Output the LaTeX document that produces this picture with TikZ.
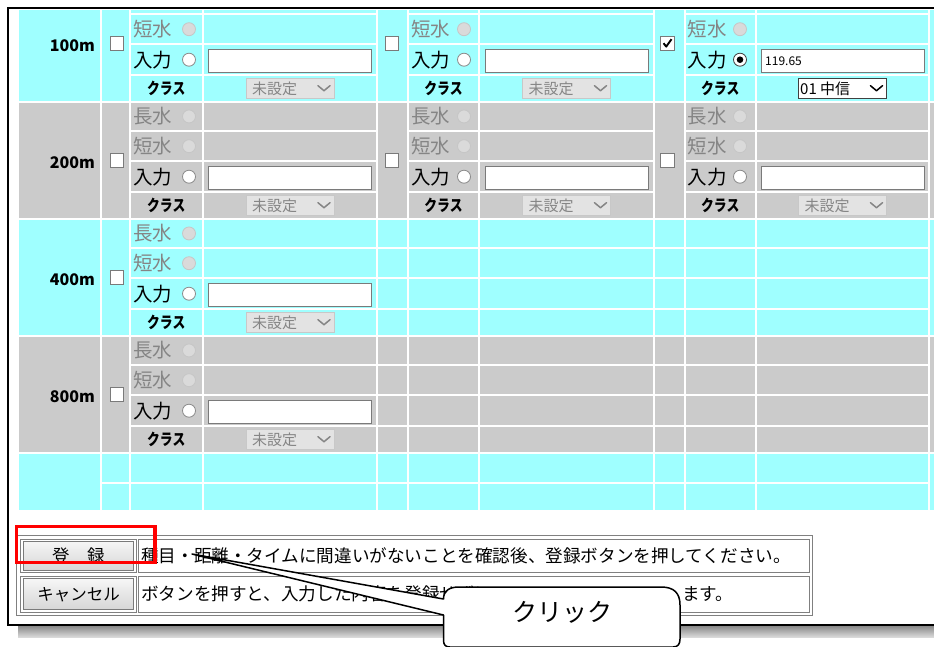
\documentclass[tikz,border=0pt]{standalone}
\usepackage{fontspec}
\usepackage{graphicx}
\setmainfont{Noto Sans CJK JP}
\usetikzlibrary{shadings}
\definecolor{cy}{HTML}{9FFFFF}
\definecolor{gr}{HTML}{CBCBCB}
\definecolor{dis}{HTML}{858585}
\definecolor{rdis}{HTML}{DADADA}
\definecolor{rdisb}{HTML}{C6C6C6}
\definecolor{ddbg}{HTML}{E3E3E3}
\definecolor{ddbd}{HTML}{C8C8C8}
\definecolor{bdr}{HTML}{7A7A7A}
\definecolor{rbd}{HTML}{8A8A8A}
\definecolor{ddon}{HTML}{404040}
\definecolor{tbl}{HTML}{808080}
\definecolor{btop}{HTML}{F6F6F6}
\definecolor{bbot}{HTML}{D6D6D6}
\definecolor{shA}{HTML}{8E8E8E}
\definecolor{shB}{HTML}{DDDDDD}
\newcommand\fsz[1]{\fontsize{#1}{#1}\selectfont}
\tikzset{
  lbl/.style={anchor=west, inner sep=0, font=\fsz{19.5}},
  dradio/.style={circle, inner sep=0, minimum size=13pt, fill=rdis, draw=rdisb, line width=0.8pt},
  onradio/.style={circle, inner sep=0, minimum size=13pt, fill=white, draw=rbd, line width=0.8pt},
  kls/.style={inner sep=0, font=\fsz{16}\bfseries},
  inbox/.style={draw=bdr, fill=white, line width=1pt, minimum width=163pt, minimum height=23.5pt, inner sep=0},
  ddoff/.style={fill=ddbg, draw=ddbd, line width=0.8pt, minimum width=88pt, minimum height=20pt, inner sep=0},
  ddenab/.style={fill=white, draw=ddon, line width=0.9pt, minimum width=88pt, minimum height=20pt, inner sep=0},
  ddtxt/.style={anchor=west, inner sep=0, font=\fsz{15}},
  chev/.style={line width=1.5pt, line cap=round, line join=round},
  cbox/.style={draw=bdr, fill=white, minimum size=13.5pt, inner sep=0, line width=0.8pt},
  distl/.style={anchor=east, inner sep=0, font=\fsz{16}\bfseries},
  btn/.style={draw=bdr, line width=0.8pt, top color=btop, bottom color=bbot},
  cell/.style={draw=tbl, line width=0.8pt},
  txt/.style={anchor=west, inner sep=0, font=\fsz{17.6}}
}
% rows 2-4 of a field set
% #1 = T (group top), #2 = label x, #3 = radio x, #4 = class x, #5 = centre of input column, #6 = id
\newcommand\jsetlow[6]{%
  \node[lbl,text=dis] (nB#6) at (#2,#1+44.5) {短水};
  \node[dradio] (rB#6) at (#3,#1+44.5) {};
  \node[lbl] (nC#6) at (#2,#1+75) {入力};
  \node[onradio] (rC#6) at (#3,#1+75) {};
  \node[kls] (nD#6) at (#4,#1+103.5) {\scalebox{0.8}[1]{クラス}};
  \node[inbox] (in#6) at (#5,#1+76.25) {};
  \node[ddoff] (dd#6) at (#5,#1+104) {};
  \node[ddtxt,text=dis] (dt#6) at (#5-38,#1+104) {未設定};
  \draw[chev,draw=dis] (#5+28,#1+101) -- (#5+34,#1+106) -- (#5+40,#1+101);
}
\newcommand\jset[6]{%
  \node[lbl,text=dis] (nA#6) at (#2,#1+14.75) {長水};
  \node[dradio] (rA#6) at (#3,#1+14.75) {};
  \jsetlow{#1}{#2}{#3}{#4}{#5}{#6}%
}
\begin{document}
\begin{tikzpicture}[x=1pt,y=-1pt]
\useasboundingbox (0,0) rectangle (934,646);
\fill[white] (0,0) rectangle (934,646);
% window shadow and frame
\shade[top color=shA, bottom color=shB] (18,626.5) rectangle (940,637.5);
\draw[line width=1.8pt] (940,8) -- (8,8) -- (8,625) -- (940,625);
% ---------------- table ----------------
\begin{scope}
\clip (0,10.5) rectangle (934,646);
\foreach \k/\cc in {0/cy,1/gr}{
  \foreach \a/\b in {18/101, 101/129.5, 377/408, 654/684.5, 929/937}
    \fill[\cc] (\a+1,-15.3+117*\k+1) rectangle (\b-1,-15.3+117*\k+116);
  \foreach \a/\b in {129.5/203, 203/377, 408/479, 479/654, 684.5/756, 756/929}
    \foreach \p/\q in {0/29.5, 29.5/59.5, 59.5/90.5, 90.5/117}
      \fill[\cc] (\a+1,-15.3+117*\k+\p+1) rectangle (\b-1,-15.3+117*\k+\q-1);
}
\foreach \k/\cc in {2/cy,3/gr}{
  \foreach \a/\b in {18/101, 101/129.5, 929/937}
    \fill[\cc] (\a+1,-15.3+117*\k+1) rectangle (\b-1,-15.3+117*\k+116);
  \foreach \a/\b in {129.5/203, 203/377, 377/408, 408/479, 479/654, 654/684.5, 684.5/756, 756/929}
    \foreach \p/\q in {0/29.5, 29.5/59.5, 59.5/90.5, 90.5/117}
      \fill[\cc] (\a+1,-15.3+117*\k+\p+1) rectangle (\b-1,-15.3+117*\k+\q-1);
}
\fill[cy] (19,453.7) rectangle (100,510);
\fill[cy] (930,453.7) rectangle (936,510);
\foreach \a/\b in {101/129.5, 129.5/203, 203/377, 377/408, 408/479, 479/654, 654/684.5, 684.5/756, 756/929}
  \foreach \p/\q in {452.7/482.5, 482.5/511}
    \fill[cy] (\a+1,\p+1) rectangle (\b-1,\q-1);
% distance labels and check boxes
\node[distl] (d100) at (95,45.2) {100m};
\node[distl] (d200) at (95,162.2) {200m};
\node[distl] (d400) at (95,279.2) {400m};
\node[distl] (d800) at (95,396.2) {800m};
\node[cbox] (cb0a) at (117,43.2) {};
\node[cbox] (cb0b) at (391.7,43.2) {};
\node[cbox] (cb0c) at (667.5,43.2) {};
\draw[line width=1.9pt, line join=round] ([shift={(-4,0)}]cb0c.center) -- ([shift={(-1.3,3.4)}]cb0c.center) -- ([shift={(4,-4)}]cb0c.center);
\node[cbox] (cb1a) at (117,160.2) {};
\node[cbox] (cb1b) at (391.7,160.2) {};
\node[cbox] (cb1c) at (667.5,160.2) {};
\node[cbox] (cb2a) at (117,277.2) {};
\node[cbox] (cb3a) at (117,394.2) {};
% field sets
\jsetlow{-15.3}{133}{189}{166.25}{290}{g0a}
\jsetlow{-15.3}{411}{464}{443.5}{566.5}{g0b}
\jset{101.7}{133}{189}{166.25}{290}{g1a}
\jset{101.7}{411}{464}{443.5}{566.5}{g1b}
\jset{101.7}{687.5}{740}{720.25}{842.5}{g1c}
\jset{218.7}{133}{189}{166.25}{290}{g2a}
\jset{335.7}{133}{189}{166.25}{290}{g3a}
% filled set (100m, third)
\node[lbl,text=dis] (nBs) at (687.5,29.2) {短水};
\node[dradio] (rBs) at (740,29.2) {};
\node[lbl] (nCs) at (687.5,59.7) {入力};
\node[onradio, draw=ddon] (rCs) at (740,59.7) {};
\fill (rCs.center) circle[radius=3.3pt];
\node[kls] (nDs) at (720.25,88.2) {\scalebox{0.8}[1]{クラス}};
\node[inbox] (ins) at (842.5,60.95) {};
\node[anchor=west, inner sep=0, font=\fsz{12}] (vals) at (765,61.5) {119.65};
\node[ddenab] (dds) at (842.5,88.7) {};
\node[ddtxt] (dts) at (800,88.7) {01 中信};
\draw[chev] (870.5,85.7) -- (876.5,90.7) -- (882.5,85.7);
\end{scope}
% ---------------- buttons ----------------
\draw[cell] (16.5,535) rectangle (812.5,615.5);
\draw[cell] (20.5,539) rectangle (136,572.5);
\draw[cell] (138.5,539) rectangle (809.5,572.5);
\draw[cell] (20.5,576.5) rectangle (136,612);
\draw[cell] (138.5,576.5) rectangle (809.5,612);
\path[btn] (23.5,541.2) rectangle (133,570.3);
\path[btn] (23.5,578.7) rectangle (133,609.8);
\node[font=\fsz{17.5}, inner sep=0] (bReg) at (78.5,555.8) {登　録};
\node[font=\fsz{16.5}, inner sep=0] (bCan) at (78.5,594.3) {キャンセル};
\node[txt] (t1) at (141,555.8) {種目・距離・タイムに間違いがないことを確認後、登録ボタンを押してください。};
\node[txt] (t2) at (141,594.3) {ボタンを押すと、入力した内容を登録せずに};
\node[txt] (t3) at (682,594.3) {ます。};
% red highlight
\draw[red, line width=3.3pt] (16.7,526.7) rectangle (155.1,562.4);
% callout
\draw[fill=white, line width=1.5pt, line join=round]
  (192,554) -- (443.5,599) .. controls (443.5,591) and (449,587) .. (459,587)
  -- (661,587) .. controls (674,587) and (680,593) .. (680,605)
  -- (680,639) .. controls (680,644) and (678,647) .. (673,647)
  -- (450,647) .. controls (445.5,647) and (443.5,645) .. (443.5,640)
  -- (443.5,615) -- cycle;
\node[font=\fsz{25}, inner sep=0] (click) at (562,612) {クリック};
\end{tikzpicture}
\end{document}
